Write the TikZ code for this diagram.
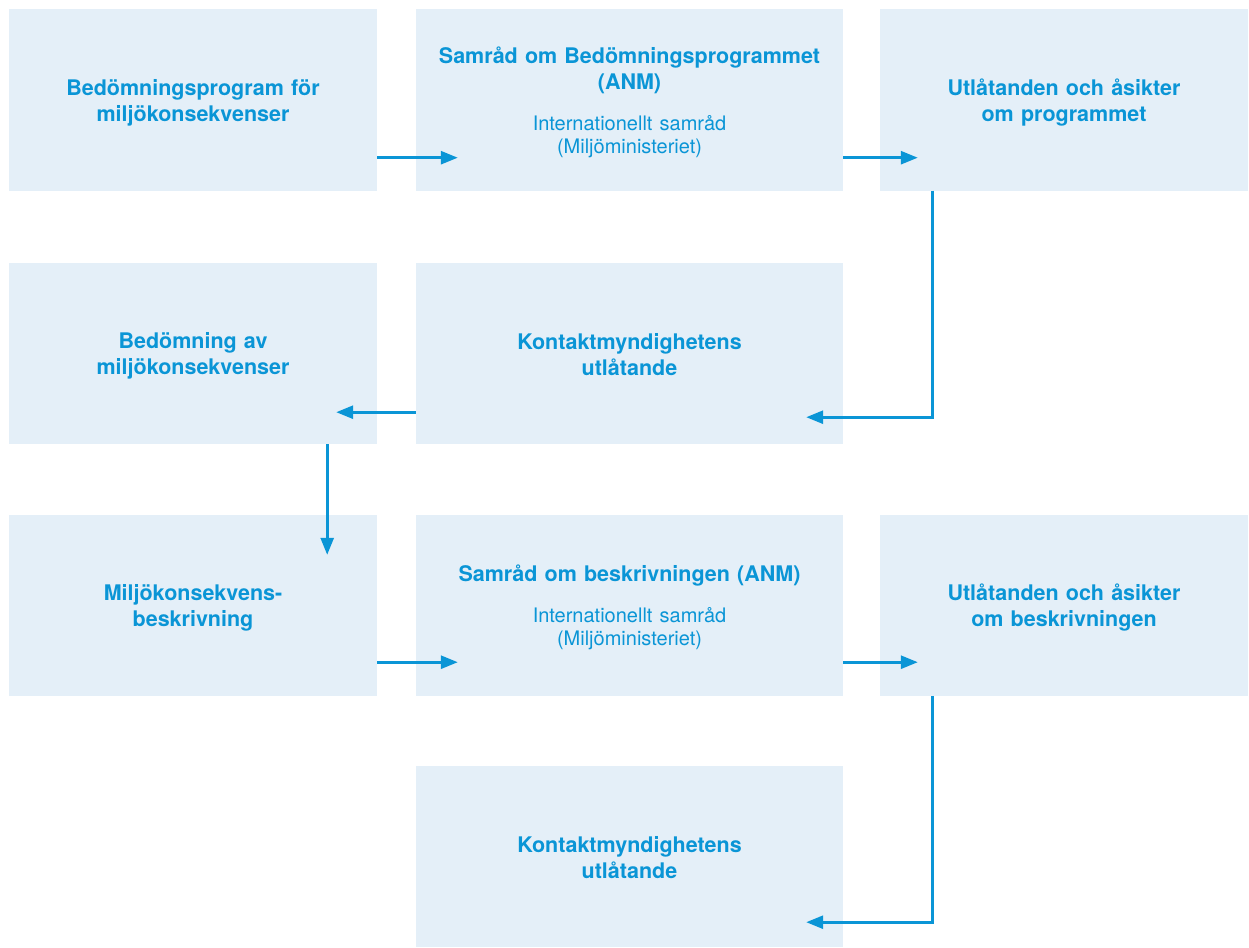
\documentclass[tikz,border=0pt]{standalone}
\usepackage{fontspec}
\setmainfont{TeX Gyre Heros}
\usetikzlibrary{arrows.meta}
\definecolor{boxfill}{HTML}{E4EFF8}
\definecolor{ablue}{HTML}{0A95D6}
\newcommand{\bfnt}{\fontsize{21.5}{26}\selectfont\bfseries}
\newcommand{\rfnt}{\fontsize{20}{23}\selectfont\mdseries}
\tikzset{
  box/.style={fill=boxfill, draw=none, minimum width=368pt, minimum height=181pt, inner sep=0pt},
  widebox/.style={box, minimum width=427pt},
  txt/.style={inner sep=0pt, text width=360pt, align=center, text=ablue, font=\bfnt},
  widetxt/.style={txt, text width=420pt},
  arr/.style={draw=ablue, line width=2.7pt, -{Triangle[length=17pt,width=13pt]}},
}
\begin{document}
\begin{tikzpicture}[x=1pt,y=-1pt]
\useasboundingbox (0,0) rectangle (1249,947);
% boxes
\node[box] (A) at (193,100) {};
\node[widebox] (B) at (629.5,100) {};
\node[box] (C) at (1064,100) {};
\node[box] (D) at (193,353.5) {};
\node[widebox] (E) at (629.5,353.5) {};
\node[box] (F) at (193,605.5) {};
\node[widebox] (G) at (629.5,605.5) {};
\node[box] (H) at (1064,605.5) {};
\node[widebox] (I) at (629.5,856.5) {};
% texts
\node[txt] (At) at ([yshift=-2.5pt]A.center) {Bedömningsprogram för\\miljökonsekvenser};
\node[widetxt] (Bt) at ([yshift=-2pt]B.center) {Samråd om Bedömningsprogrammet\\(ANM)\par\vspace{18pt}\rfnt Internationellt samråd\\(Miljöministeriet)\par};
\node[txt] (Ct) at ([yshift=-2.5pt]C.center) {Utlåtanden och åsikter\\om programmet};
\node[txt] (Dt) at ([yshift=-2pt]D.center) {Bedömning av\\miljökonsekvenser};
\node[widetxt] (Et) at ([yshift=-1pt]E.center) {Kontaktmyndighetens\\utlåtande};
\node[txt] (Ft) at ([yshift=-2.5pt]F.center) {Miljökonsekvens-\\beskrivning};
\node[widetxt] (Gt) at ([yshift=-2pt]G.center) {Samråd om beskrivningen (ANM)\par\vspace{18pt}\rfnt Internationellt samråd\\(Miljöministeriet)\par};
\node[txt] (Ht) at ([yshift=-2.5pt]H.center) {Utlåtanden och åsikter\\om beskrivningen};
\node[widetxt] (It) at ([yshift=-1pt]I.center) {Kontaktmyndighetens\\utlåtande};
% connectors
\draw[arr] ([yshift=33pt]A.south east) -- ([yshift=33pt,xshift=42pt]B.south west);
\draw[arr] ([yshift=33pt]B.south east) -- ([yshift=33pt,xshift=38pt]C.south west);
\draw[arr] ([xshift=53pt]C.south west) |- ([xshift=-37pt,yshift=27pt]E.south east);
\draw[arr] ([yshift=32pt]E.south west) -- ([xshift=-41pt,yshift=32pt]D.south east);
\draw[arr] ([xshift=-50pt]D.south east) -- ([xshift=-50pt,yshift=-40pt]F.north east);
\draw[arr] ([yshift=34pt]F.south east) -- ([yshift=34pt,xshift=42pt]G.south west);
\draw[arr] ([yshift=34pt]G.south east) -- ([yshift=34pt,xshift=38pt]H.south west);
\draw[arr] ([xshift=53pt]H.south west) |- ([xshift=-37pt,yshift=25pt]I.south east);
\end{tikzpicture}
\end{document}
